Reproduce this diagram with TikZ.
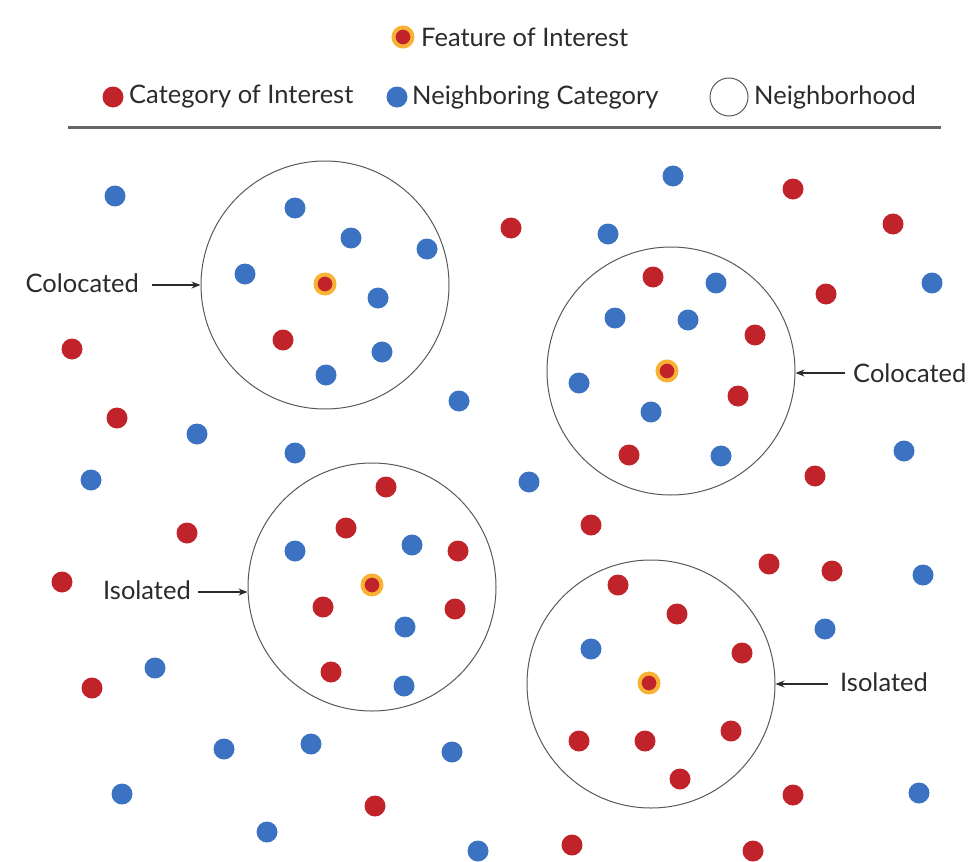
\documentclass[tikz,border=0pt]{standalone}
\usepackage{fontspec}
\setmainfont{Lato}
\usetikzlibrary{arrows.meta}
\definecolor{dred}{HTML}{C1232B}
\definecolor{dblue}{HTML}{3B73C2}
\definecolor{dorange}{HTML}{F9B233}
\definecolor{txt}{HTML}{2B2B2B}
\tikzset{
  rdot/.style={circle,fill=dred,inner sep=0pt,minimum size=21pt},
  bdot/.style={circle,fill=dblue,inner sep=0pt,minimum size=21pt},
  fdot/.style={circle,fill=dred,draw=dorange,line width=4pt,inner sep=0pt,minimum size=19pt},
  hood/.style={circle,draw=black!65,line width=1pt,inner sep=0pt,minimum size=248pt},
  lbl/.style={font=\fontsize{25.5}{28}\selectfont,text=txt,inner sep=0pt},
  arr/.style={-{Stealth[length=9pt,width=7pt]},line width=1.3pt,draw=txt}
}
\begin{document}
\begin{tikzpicture}[x=1pt,y=-1pt]
\useasboundingbox (0,0) rectangle (972,862);
% legend
\node[fdot] (lf) at (403,37) {};
\node[lbl,anchor=west] (lft) at (421,37) {Feature of Interest};
\node[rdot] (lr) at (113,97) {};
\node[lbl,anchor=west] (lrt) at (129,97) {Category of Interest};
\node[bdot] (lb) at (397,97) {};
\node[lbl,anchor=west] (lbt) at (412,97) {Neighboring Category};
\node[circle,draw=black!65,line width=1pt,minimum size=38pt,inner sep=0pt] (ln) at (729,97) {};
\node[lbl,anchor=west] (lnt) at (754,97) {Neighborhood};
\coordinate (ll1) at (68,127);
\coordinate (ll2) at (941,127);
\draw[line width=3pt,draw=black!60] (ll1) -- (ll2);
% neighborhoods
\node[hood] (h1) at (325,285) {};
\node[hood] (h2) at (671,371) {};
\node[hood] (h3) at (372,587) {};
\node[hood] (h4) at (651,684) {};
% labels
\node[lbl,anchor=east] (c1) at (139,283) {Colocated};
\node[lbl,anchor=west] (c2) at (853,373) {Colocated};
\node[lbl,anchor=east] (i1) at (191,590) {Isolated};
\node[lbl,anchor=west] (i2) at (840,682) {Isolated};
\coordinate (ca) at (152,285);
\draw[arr] (ca) -- (h1.west |- ca);
\coordinate (cb) at (845,373);
\draw[arr] (cb) -- (h2.east |- cb);
\coordinate (ia) at (198,592);
\draw[arr] (ia) -- (h3.west |- ia);
\coordinate (ib) at (828,684);
\draw[arr] (ib) -- (h4.east |- ib);
% features
\node[fdot] (f1) at (325,284) {};
\node[fdot] (f2) at (667,371) {};
\node[fdot] (f3) at (372,585) {};
\node[fdot] (f4) at (649,683) {};
% circle 1
\foreach \p [count=\i] in {(295,208),(351,238),(427,249),(245,274),(378,298),(382,352),(326,375)}
  \node[bdot] (a\i) at \p {};
\node[rdot] (ar1) at (283,340) {};
% circle 2
\foreach \p [count=\i] in {(716,283),(615,318),(688,320),(579,383),(651,412),(721,456)}
  \node[bdot] (b\i) at \p {};
\foreach \p [count=\i] in {(653,277),(755,335),(738,396),(629,455)}
  \node[rdot] (br\i) at \p {};
% circle 3
\foreach \p [count=\i] in {(295,551),(412,545),(405,627),(404,686)}
  \node[bdot] (c\i) at \p {};
\foreach \p [count=\i] in {(386,487),(346,528),(458,551),(323,607),(455,609),(331,672)}
  \node[rdot] (cr\i) at \p {};
% circle 4
\node[bdot] (d1) at (591,649) {};
\foreach \p [count=\i] in {(618,585),(677,614),(742,653),(579,741),(645,741),(731,731),(680,779)}
  \node[rdot] (dr\i) at \p {};
% outside blue
\foreach \p [count=\i] in {(115,196),(673,176),(608,234),(932,283),(459,401),(197,434),(295,453),(91,480),(529,482),(904,451),(923,575),(825,629),(155,668),(224,749),(311,744),(452,752),(122,794),(267,832),(478,851),(919,793)}
  \node[bdot] (ob\i) at \p {};
% outside red
\foreach \p [count=\i] in {(793,189),(511,228),(893,224),(826,294),(72,349),(117,418),(815,476),(187,533),(591,525),(62,582),(769,564),(832,571),(92,688),(375,806),(572,845),(753,851),(793,795)}
  \node[rdot] (or\i) at \p {};
\end{tikzpicture}
\end{document}
